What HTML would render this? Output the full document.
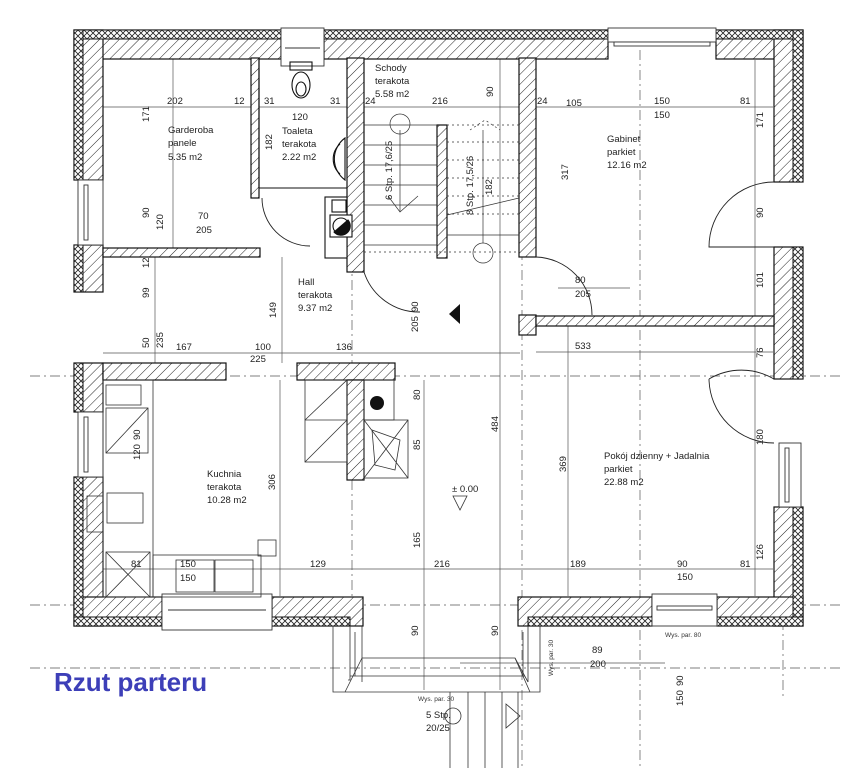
<!DOCTYPE html>
<html><head><meta charset="utf-8"><style>
html,body{margin:0;padding:0;background:#fff;}
svg{display:block;font-family:"Liberation Sans",sans-serif;}
</style></head><body>
<svg width="844" height="768" viewBox="0 0 844 768" xmlns="http://www.w3.org/2000/svg">
<defs>
<pattern id="h" width="7" height="7" patternUnits="userSpaceOnUse" patternTransform="rotate(45)">
<rect width="7" height="7" fill="#fff"/><line x1="0" y1="0" x2="0" y2="7" stroke="#222" stroke-width="1"/></pattern>
<pattern id="x" width="6" height="6" patternUnits="userSpaceOnUse">
<rect width="6" height="6" fill="#fff"/><path d="M0 0L6 6M6 0L0 6" stroke="#222" stroke-width="0.8"/></pattern>
</defs>
<rect width="844" height="768" fill="#fff"/>

<g stroke="#555" stroke-width="0.7" fill="none">
<line x1="103" y1="107" x2="773" y2="107"/>
<line x1="103" y1="353" x2="520" y2="353"/>
<line x1="536" y1="352" x2="773" y2="352"/>
<line x1="103" y1="569" x2="773" y2="569"/>
<line x1="173" y1="58" x2="173" y2="248"/>
<line x1="155" y1="257" x2="155" y2="363"/>
<line x1="282" y1="257" x2="282" y2="363"/>
<line x1="568" y1="326" x2="568" y2="596"/>
<line x1="755" y1="60" x2="755" y2="596"/>
<line x1="424" y1="380" x2="424" y2="690"/>
<line x1="500" y1="58" x2="500" y2="690"/>
<line x1="280" y1="380" x2="280" y2="596"/>
<line x1="558" y1="288" x2="630" y2="288"/>
<line x1="560" y1="663" x2="665" y2="663"/>
<line x1="460" y1="663" x2="560" y2="663"/>
</g>
<g stroke="#555" stroke-width="0.7" fill="none" stroke-dasharray="10 4 2 4">
<line x1="30" y1="376" x2="844" y2="376"/>
<line x1="30" y1="605" x2="844" y2="605"/>
<line x1="30" y1="668" x2="844" y2="668"/>
<line x1="640" y1="30" x2="640" y2="768"/>
<line x1="352" y1="260" x2="352" y2="600"/>
<line x1="522" y1="30" x2="522" y2="768"/>
<line x1="783" y1="600" x2="783" y2="700"/>
</g>

<g fill="url(#h)" stroke="#111" stroke-width="1.2">
<rect x="74" y="30" width="207" height="29"/>
<rect x="324" y="30" width="284" height="29"/>
<rect x="716" y="30" width="87" height="29"/>
<rect x="74" y="30" width="29" height="150"/>
<rect x="74" y="245" width="29" height="47"/>
<rect x="74" y="363" width="29" height="49"/>
<rect x="74" y="477" width="29" height="149"/>
<rect x="774" y="30" width="29" height="152"/>
<rect x="774" y="247" width="29" height="132"/>
<rect x="774" y="507" width="29" height="119"/>
<rect x="74" y="597" width="88" height="29"/>
<rect x="272" y="597" width="91" height="29"/>
<rect x="518" y="597" width="134" height="29"/>
<rect x="717" y="597" width="86" height="29"/>
</g>
<g fill="url(#x)" stroke="#111" stroke-width="1">
<rect x="74" y="30" width="207" height="9"/>
<rect x="324" y="30" width="284" height="9"/>
<rect x="716" y="30" width="87" height="9"/>
<rect x="74" y="30" width="9" height="150"/>
<rect x="74" y="245" width="9" height="47"/>
<rect x="74" y="363" width="9" height="49"/>
<rect x="74" y="477" width="9" height="149"/>
<rect x="793" y="30" width="10" height="152"/>
<rect x="793" y="247" width="10" height="132"/>
<rect x="793" y="507" width="10" height="119"/>
<rect x="74" y="617" width="88" height="9"/>
<rect x="272" y="617" width="78" height="9"/>
<rect x="528" y="617" width="124" height="9"/>
<rect x="717" y="617" width="86" height="9"/>
</g>
<g fill="#fff" stroke="#333" stroke-width="0.9">
<rect x="281" y="28" width="43" height="38"/><line x1="285" y1="48" x2="320" y2="48"/>
<rect x="608" y="28" width="108" height="14"/><rect x="614" y="42" width="96" height="4"/>
<rect x="78" y="180" width="25" height="65"/><rect x="84" y="185" width="4" height="55"/>
<rect x="78" y="412" width="25" height="65"/><rect x="84" y="417" width="4" height="55"/>
<rect x="162" y="594" width="110" height="36"/><line x1="168" y1="610" x2="266" y2="610"/>
<rect x="652" y="594" width="65" height="32"/><rect x="657" y="606" width="55" height="4"/>
<rect x="779" y="443" width="22" height="64"/><rect x="785" y="448" width="4" height="54"/>
</g>

<g fill="url(#h)" stroke="#111" stroke-width="1.2">
<rect x="251" y="58" width="8" height="140"/>
<rect x="103" y="248" width="157" height="9"/>
<rect x="347" y="58" width="17" height="214"/>
<rect x="437" y="125" width="10" height="133"/>
<rect x="519" y="58" width="17" height="199"/>
<rect x="519" y="315" width="17" height="20"/>
<rect x="536" y="316" width="238" height="10"/>
<rect x="103" y="363" width="123" height="17"/>
<rect x="297" y="363" width="98" height="17"/>
<rect x="347" y="380" width="17" height="100"/>
</g>
<g fill="none" stroke="#111" stroke-width="1.1">
<polyline points="259,58 259,188 347,188"/>
<rect x="325" y="197" width="22" height="61" fill="#fff"/>
<rect x="330" y="215" width="22" height="22" fill="#fff"/>
<circle cx="341" cy="226" r="8" fill="#fff"/>
<path d="M334 232 L348 220 A8 8 0 0 1 334 232Z" fill="#111"/>
<rect x="332" y="200" width="14" height="12"/>
<rect x="290" y="62" width="22" height="8"/>
<ellipse cx="301" cy="85" rx="9" ry="13"/>
<ellipse cx="301" cy="89" rx="5" ry="7"/>
<path d="M345 138 A26 26 0 0 0 345 180 Z"/>
<path d="M340 144 A20 20 0 0 0 340 174"/>
</g>

<g fill="none" stroke="#222" stroke-width="0.9">
<path d="M262 198 A48 48 0 0 0 310 246"/>
<path d="M364 272 A58 58 0 0 0 420 312"/>
<path d="M536 257 A58 58 0 0 1 592 315"/>
<path d="M774 182 A65 65 0 0 0 709 247 L774 247"/>
<path d="M774 379 A64 64 0 0 0 709 379 M709 379 A65 65 0 0 0 774 443"/>
</g>

<g fill="none" stroke="#333" stroke-width="0.7">
<line x1="364" y1="125" x2="437" y2="125"/>
<line x1="364" y1="145" x2="437" y2="145"/><line x1="364" y1="165" x2="437" y2="165"/>
<line x1="364" y1="185" x2="437" y2="185"/><line x1="364" y1="205" x2="437" y2="205"/>
<line x1="364" y1="225" x2="437" y2="225"/><line x1="364" y1="245" x2="437" y2="245"/>
<polyline points="388,196 400,212 418,196"/>
<line x1="400" y1="130" x2="400" y2="212"/>
<circle cx="400" cy="124" r="10"/>
<g stroke-dasharray="2 3">
<line x1="447" y1="125" x2="519" y2="125"/><line x1="447" y1="142" x2="519" y2="142"/>
<line x1="447" y1="160" x2="519" y2="160"/><line x1="447" y1="178" x2="519" y2="178"/>
<line x1="447" y1="196" x2="519" y2="196"/><line x1="447" y1="214" x2="519" y2="214"/>
<line x1="364" y1="252" x2="519" y2="252"/>
<polyline points="470,130 485,120 500,130"/>
</g>
<line x1="447" y1="215" x2="519" y2="198"/>
<line x1="447" y1="235" x2="519" y2="235"/>
<circle cx="483" cy="253" r="10"/>
<line x1="483" y1="130" x2="483" y2="243"/>
</g>

<g fill="none" stroke="#333" stroke-width="0.8">
<rect x="103" y="380" width="50" height="217"/>
<rect x="106" y="385" width="35" height="20"/>
<rect x="106" y="408" width="42" height="45"/><line x1="106" y1="453" x2="148" y2="408"/>
<rect x="107" y="493" width="36" height="30"/>
<rect x="87" y="496" width="16" height="36"/>
<rect x="106" y="552" width="44" height="45"/><line x1="106" y1="552" x2="150" y2="597"/><line x1="150" y1="552" x2="106" y2="597"/>
<rect x="153" y="555" width="108" height="42"/>
<rect x="176" y="560" width="38" height="32"/><rect x="215" y="560" width="38" height="32"/>
<rect x="258" y="540" width="18" height="16"/>
<rect x="305" y="380" width="42" height="82"/><line x1="305" y1="462" x2="347" y2="420"/><line x1="305" y1="420" x2="347" y2="380"/><line x1="305" y1="420" x2="347" y2="420"/>
<rect x="364" y="380" width="30" height="40"/>
<rect x="364" y="420" width="44" height="58"/><path d="M364 420 L408 478 M408 420 L364 478 M372 430 L400 440 L395 470 L375 465Z"/>
<polygon points="453,496 467,496 460,510"/>
<!-- bay -->
<polyline points="333,626 333,692 540,692 540,626"/>
<polyline points="350,626 350,680 348,680"/>
<line x1="362" y1="626" x2="362" y2="682"/>
<line x1="528" y1="626" x2="528" y2="682"/>
<line x1="355" y1="632" x2="355" y2="676"/>
<line x1="523" y1="632" x2="523" y2="676"/>
<polyline points="362,658 515,658 528,682"/>
<line x1="362" y1="658" x2="345" y2="692"/>
<line x1="515" y1="658" x2="530" y2="692"/>
<line x1="350" y1="676" x2="525" y2="676"/>
<line x1="450" y1="692" x2="450" y2="768"/><line x1="468" y1="692" x2="468" y2="768"/>
<line x1="485" y1="692" x2="485" y2="768"/><line x1="502" y1="692" x2="502" y2="768"/>
<line x1="518" y1="692" x2="518" y2="768"/>
<polygon points="506,704 520,716 506,728"/>
<circle cx="453" cy="716" r="8"/>
</g>
<circle cx="377" cy="403" r="7" fill="#111"/>
<polygon points="449,314 460,304 460,324" fill="#111"/>

<g font-size="9.5" fill="#222">
<text x="168" y="133">Garderoba</text><text x="168" y="146">panele</text><text x="168" y="160">5.35 m2</text>
<text x="282" y="134">Toaleta</text><text x="282" y="147">terakota</text><text x="282" y="160">2.22 m2</text>
<text x="375" y="71">Schody</text><text x="375" y="84">terakota</text><text x="375" y="97">5.58 m2</text>
<text x="607" y="142">Gabinet</text><text x="607" y="155">parkiet</text><text x="607" y="168">12.16 m2</text>
<text x="298" y="285">Hall</text><text x="298" y="298">terakota</text><text x="298" y="311">9.37 m2</text>
<text x="207" y="477">Kuchnia</text><text x="207" y="490">terakota</text><text x="207" y="503">10.28 m2</text>
<text x="604" y="459">Pokój dzienny + Jadalnia</text><text x="604" y="472">parkiet</text><text x="604" y="485">22.88 m2</text>
<text x="452" y="492">± 0.00</text>
<text x="167" y="104">202</text><text x="234" y="104">12</text><text x="264" y="104">31</text><text x="330" y="104">31</text>
<text x="292" y="120">120</text><text x="365" y="104">24</text><text x="432" y="104">216</text>
<text x="537" y="104">24</text><text x="566" y="106">105</text><text x="654" y="104">150</text><text x="740" y="104">81</text>
<text x="654" y="118">150</text>
<text x="198" y="219">70</text><text x="196" y="233">205</text>
<text x="176" y="350">167</text><text x="255" y="350">100</text><text x="250" y="362">225</text><text x="336" y="350">136</text>
<text x="575" y="283">80</text><text x="575" y="297">205</text><text x="575" y="349">533</text>
<text x="310" y="567">129</text><text x="434" y="567">216</text><text x="570" y="567">189</text>
<text x="677" y="567">90</text><text x="677" y="580">150</text><text x="740" y="567">81</text>
<text x="131" y="567">81</text><text x="180" y="567">150</text><text x="180" y="581">150</text>
<text x="592" y="653">89</text><text x="590" y="667">200</text>
<text x="426" y="718">5 Stp.</text><text x="426" y="731">20/25</text>
</g>
<g font-size="9.5" fill="#222">
<text transform="translate(149,122) rotate(-90)">171</text>
<text transform="translate(149,218) rotate(-90)">90</text>
<text transform="translate(163,230) rotate(-90)">120</text>
<text transform="translate(272,150) rotate(-90)">182</text>
<text transform="translate(149,268) rotate(-90)">12</text>
<text transform="translate(149,298) rotate(-90)">99</text>
<text transform="translate(149,348) rotate(-90)">50</text>
<text transform="translate(163,348) rotate(-90)">235</text>
<text transform="translate(276,318) rotate(-90)">149</text>
<text transform="translate(493,97) rotate(-90)">90</text>
<text transform="translate(568,180) rotate(-90)">317</text>
<text transform="translate(763,128) rotate(-90)">171</text>
<text transform="translate(763,218) rotate(-90)">90</text>
<text transform="translate(763,288) rotate(-90)">101</text>
<text transform="translate(763,358) rotate(-90)">76</text>
<text transform="translate(492,195) rotate(-90)">182</text>
<text transform="translate(392,200) rotate(-90)">6 Stp. 17,6/25</text>
<text transform="translate(473,215) rotate(-90)">8 Stp. 17,5/26</text>
<text transform="translate(418,312) rotate(-90)">90</text>
<text transform="translate(418,332) rotate(-90)">205</text>
<text transform="translate(275,490) rotate(-90)">306</text>
<text transform="translate(140,440) rotate(-90)">90</text>
<text transform="translate(140,460) rotate(-90)">120</text>
<text transform="translate(420,400) rotate(-90)">80</text>
<text transform="translate(420,450) rotate(-90)">85</text>
<text transform="translate(420,548) rotate(-90)">165</text>
<text transform="translate(498,432) rotate(-90)">484</text>
<text transform="translate(566,472) rotate(-90)">369</text>
<text transform="translate(763,445) rotate(-90)">180</text>
<text transform="translate(763,560) rotate(-90)">126</text>
<text transform="translate(418,636) rotate(-90)">90</text>
<text transform="translate(498,636) rotate(-90)">90</text>
<text transform="translate(683,686) rotate(-90)">90</text>
<text transform="translate(683,706) rotate(-90)">150</text>
</g>
<g font-size="6.5" fill="#333">
<text x="665" y="637">Wys. par. 80</text>
<text x="418" y="701">Wys. par. 30</text>
<text transform="translate(553,676) rotate(-90)">Wys. par. 30</text>
</g>
<text x="54" y="691" font-size="26" font-weight="bold" fill="#3d3fb8">Rzut parteru</text>
</svg>
</body></html>
